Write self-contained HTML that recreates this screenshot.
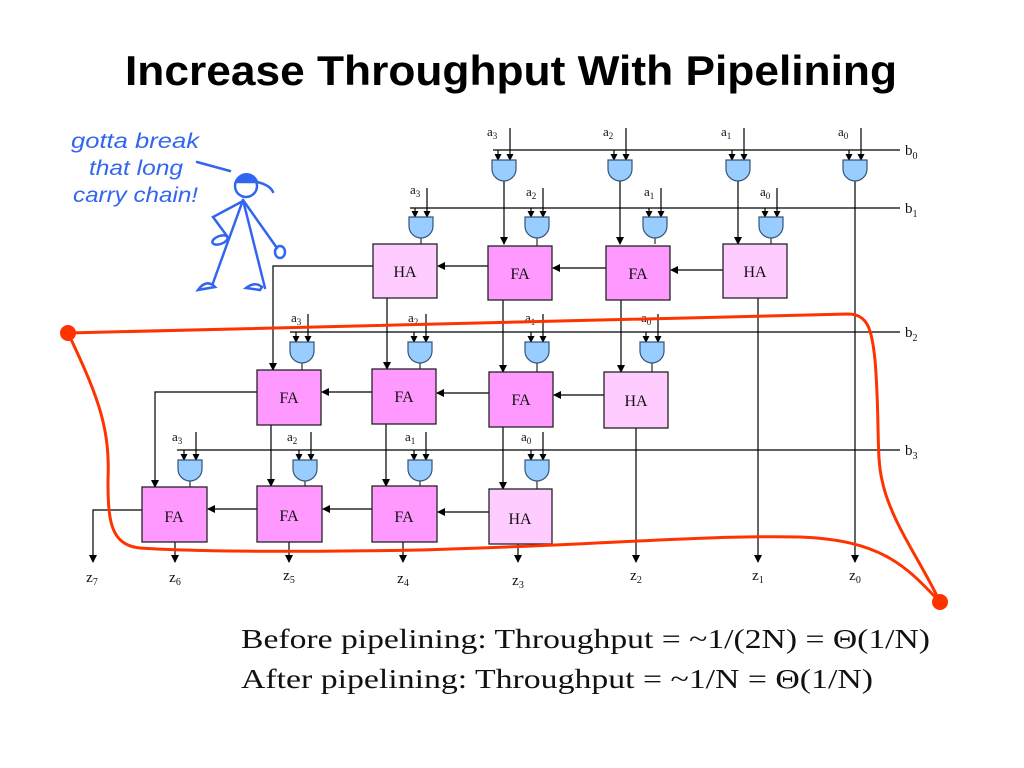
<!DOCTYPE html>
<html><head><meta charset="utf-8"><style>
body{margin:0;background:#fff}
svg{display:block}
.t{font-family:"Liberation Serif",serif;fill:#111}
</style></head><body>
<svg width="1024" height="768" viewBox="0 0 1024 768" xmlns="http://www.w3.org/2000/svg">
<defs>
<marker id="ar" markerWidth="8" markerHeight="8" refX="7" refY="4" orient="auto" markerUnits="userSpaceOnUse"><path d="M0,0 L8,4 L0,8 z" fill="#000"/></marker>
<marker id="as" markerWidth="7" markerHeight="7" refX="6" refY="3.5" orient="auto" markerUnits="userSpaceOnUse"><path d="M0,0 L7,3.5 L0,7 z" fill="#000"/></marker>
</defs>
<text x="125" y="85" textLength="772" lengthAdjust="spacingAndGlyphs" font-family="Liberation Sans, sans-serif" font-weight="bold" font-size="42" fill="#000">Increase Throughput With Pipelining</text>

<g stroke="#000" stroke-width="1.2" fill="none">
<line x1="493" y1="150" x2="900" y2="150"/>
<line x1="410" y1="208" x2="900" y2="208"/>
<line x1="290" y1="332" x2="900" y2="332"/>
<line x1="177" y1="450" x2="900" y2="450"/>
</g>
<g class="t" font-size="15">
<text x="905" y="155">b<tspan font-size="10" dy="4">0</tspan></text>
<text x="905" y="213">b<tspan font-size="10" dy="4">1</tspan></text>
<text x="905" y="337">b<tspan font-size="10" dy="4">2</tspan></text>
<text x="905" y="455">b<tspan font-size="10" dy="4">3</tspan></text>
</g>

<g stroke="#000" stroke-width="1.2" marker-end="url(#as)">
<line x1="510" y1="128" x2="510" y2="160"/><line x1="498" y1="150" x2="498" y2="160"/>
<line x1="626" y1="128" x2="626" y2="160"/><line x1="614" y1="150" x2="614" y2="160"/>
<line x1="744" y1="128" x2="744" y2="160"/><line x1="732" y1="150" x2="732" y2="160"/>
<line x1="861" y1="128" x2="861" y2="160"/><line x1="849" y1="150" x2="849" y2="160"/>
<line x1="427" y1="188" x2="427" y2="217"/><line x1="415" y1="208" x2="415" y2="217"/>
<line x1="543" y1="188" x2="543" y2="217"/><line x1="531" y1="208" x2="531" y2="217"/>
<line x1="661" y1="188" x2="661" y2="217"/><line x1="649" y1="208" x2="649" y2="217"/>
<line x1="777" y1="188" x2="777" y2="217"/><line x1="765" y1="208" x2="765" y2="217"/>
<line x1="308" y1="314" x2="308" y2="342"/><line x1="296" y1="332" x2="296" y2="342"/>
<line x1="426" y1="314" x2="426" y2="342"/><line x1="414" y1="332" x2="414" y2="342"/>
<line x1="543" y1="314" x2="543" y2="342"/><line x1="531" y1="332" x2="531" y2="342"/>
<line x1="658" y1="314" x2="658" y2="342"/><line x1="646" y1="332" x2="646" y2="342"/>
<line x1="196" y1="432" x2="196" y2="460"/><line x1="184" y1="450" x2="184" y2="460"/>
<line x1="311" y1="432" x2="311" y2="460"/><line x1="299" y1="450" x2="299" y2="460"/>
<line x1="426" y1="432" x2="426" y2="460"/><line x1="414" y1="450" x2="414" y2="460"/>
<line x1="543" y1="432" x2="543" y2="460"/><line x1="531" y1="450" x2="531" y2="460"/>
</g>
<g class="t" font-size="13">
<text x="487" y="136">a<tspan font-size="9" dy="3">3</tspan></text>
<text x="603" y="136">a<tspan font-size="9" dy="3">2</tspan></text>
<text x="721" y="136">a<tspan font-size="9" dy="3">1</tspan></text>
<text x="838" y="136">a<tspan font-size="9" dy="3">0</tspan></text>
<text x="410" y="194">a<tspan font-size="9" dy="3">3</tspan></text>
<text x="526" y="196">a<tspan font-size="9" dy="3">2</tspan></text>
<text x="644" y="196">a<tspan font-size="9" dy="3">1</tspan></text>
<text x="760" y="196">a<tspan font-size="9" dy="3">0</tspan></text>
<text x="291" y="322">a<tspan font-size="9" dy="3">3</tspan></text>
<text x="408" y="322">a<tspan font-size="9" dy="3">2</tspan></text>
<text x="525" y="322">a<tspan font-size="9" dy="3">1</tspan></text>
<text x="641" y="322">a<tspan font-size="9" dy="3">0</tspan></text>
<text x="172" y="441">a<tspan font-size="9" dy="3">3</tspan></text>
<text x="287" y="441">a<tspan font-size="9" dy="3">2</tspan></text>
<text x="405" y="441">a<tspan font-size="9" dy="3">1</tspan></text>
<text x="521" y="441">a<tspan font-size="9" dy="3">0</tspan></text>
</g>

<g stroke="#000" stroke-width="1.2" fill="none" marker-end="url(#ar)">
<line x1="504" y1="181" x2="504" y2="244"/>
<line x1="620" y1="181" x2="620" y2="244"/>
<line x1="738" y1="181" x2="738" y2="244"/>
<line x1="855" y1="181" x2="855" y2="562"/>
<line x1="723" y1="270" x2="671" y2="270"/>
<line x1="606" y1="268" x2="553" y2="268"/>
<line x1="488" y1="266" x2="438" y2="266"/>
<polyline points="373,266 273,266 273,370"/>
<line x1="387" y1="298" x2="387" y2="369"/>
<line x1="503" y1="300" x2="503" y2="372"/>
<line x1="621" y1="300" x2="621" y2="372"/>
<line x1="758" y1="298" x2="758" y2="562"/>
<line x1="604" y1="395" x2="554" y2="395"/>
<line x1="489" y1="393" x2="437" y2="393"/>
<line x1="372" y1="392" x2="322" y2="392"/>
<polyline points="257,392 155,392 155,487"/>
<line x1="271" y1="425" x2="271" y2="486"/>
<line x1="386" y1="424" x2="386" y2="486"/>
<line x1="503" y1="427" x2="503" y2="489"/>
<line x1="636" y1="428" x2="636" y2="562"/>
<line x1="489" y1="512" x2="438" y2="512"/>
<line x1="372" y1="509" x2="323" y2="509"/>
<line x1="257" y1="509" x2="208" y2="509"/>
<polyline points="142,510 93,510 93,562"/>
<line x1="175" y1="542" x2="175" y2="562"/>
<line x1="289" y1="542" x2="289" y2="562"/>
<line x1="403" y1="542" x2="403" y2="562"/>
<line x1="518" y1="544" x2="518" y2="562"/>
</g>
<g stroke="#000" stroke-width="1">
<line x1="421" y1="238" x2="421" y2="244"/><line x1="537" y1="238" x2="537" y2="249"/><line x1="655" y1="238" x2="655" y2="244"/><line x1="771" y1="238" x2="771" y2="244"/>
<line x1="302" y1="363" x2="302" y2="370"/><line x1="420" y1="363" x2="420" y2="369"/><line x1="537" y1="363" x2="537" y2="372"/><line x1="652" y1="363" x2="652" y2="372"/>
<line x1="190" y1="481" x2="190" y2="487"/><line x1="305" y1="481" x2="305" y2="486"/><line x1="420" y1="481" x2="420" y2="486"/><line x1="537" y1="481" x2="537" y2="489"/>
</g>

<g fill="#99ccff" stroke="#335577" stroke-width="1.2">
<path d="M492,160 h24 v9 a12,12 0 0 1 -24,0 z"/>
<path d="M608,160 h24 v9 a12,12 0 0 1 -24,0 z"/>
<path d="M726,160 h24 v9 a12,12 0 0 1 -24,0 z"/>
<path d="M843,160 h24 v9 a12,12 0 0 1 -24,0 z"/>
<path d="M409,217 h24 v9 a12,12 0 0 1 -24,0 z"/>
<path d="M525,217 h24 v9 a12,12 0 0 1 -24,0 z"/>
<path d="M643,217 h24 v9 a12,12 0 0 1 -24,0 z"/>
<path d="M759,217 h24 v9 a12,12 0 0 1 -24,0 z"/>
<path d="M290,342 h24 v9 a12,12 0 0 1 -24,0 z"/>
<path d="M408,342 h24 v9 a12,12 0 0 1 -24,0 z"/>
<path d="M525,342 h24 v9 a12,12 0 0 1 -24,0 z"/>
<path d="M640,342 h24 v9 a12,12 0 0 1 -24,0 z"/>
<path d="M178,460 h24 v9 a12,12 0 0 1 -24,0 z"/>
<path d="M293,460 h24 v9 a12,12 0 0 1 -24,0 z"/>
<path d="M408,460 h24 v9 a12,12 0 0 1 -24,0 z"/>
<path d="M525,460 h24 v9 a12,12 0 0 1 -24,0 z"/>
</g>

<g stroke="#222" stroke-width="1.3">
<rect x="373" y="244" width="64" height="54" fill="#ffccff"/>
<rect x="488" y="246" width="64" height="54" fill="#ff99ff"/>
<rect x="606" y="246" width="64" height="54" fill="#ff99ff"/>
<rect x="723" y="244" width="64" height="54" fill="#ffccff"/>
<rect x="257" y="370" width="64" height="55" fill="#ff99ff"/>
<rect x="372" y="369" width="64" height="55" fill="#ff99ff"/>
<rect x="489" y="372" width="64" height="55" fill="#ff99ff"/>
<rect x="604" y="372" width="64" height="56" fill="#ffccff"/>
<rect x="142" y="487" width="65" height="55" fill="#ff99ff"/>
<rect x="257" y="486" width="65" height="56" fill="#ff99ff"/>
<rect x="372" y="486" width="65" height="56" fill="#ff99ff"/>
<rect x="489" y="489" width="63" height="55" fill="#ffccff"/>
</g>
<g class="t" font-size="16" text-anchor="middle">
<text x="405" y="277">HA</text><text x="520" y="279">FA</text><text x="638" y="279">FA</text><text x="755" y="277">HA</text>
<text x="289" y="403">FA</text><text x="404" y="402">FA</text><text x="521" y="405">FA</text><text x="636" y="406">HA</text>
<text x="174" y="522">FA</text><text x="289" y="521">FA</text><text x="404" y="522">FA</text><text x="520" y="524">HA</text>
</g>
<g class="t" font-size="15" text-anchor="middle">
<text x="92" y="582">z<tspan font-size="10" dy="3">7</tspan></text>
<text x="175" y="582">z<tspan font-size="10" dy="3">6</tspan></text>
<text x="289" y="580">z<tspan font-size="10" dy="3">5</tspan></text>
<text x="403" y="583">z<tspan font-size="10" dy="3">4</tspan></text>
<text x="518" y="585">z<tspan font-size="10" dy="3">3</tspan></text>
<text x="636" y="580">z<tspan font-size="10" dy="3">2</tspan></text>
<text x="758" y="580">z<tspan font-size="10" dy="3">1</tspan></text>
<text x="855" y="580">z<tspan font-size="10" dy="3">0</tspan></text>
</g>

<g stroke="#ff3300" stroke-width="3" fill="none" stroke-linecap="round">
<path d="M68,333 L848,314 C868,314 872,330 875,360 C880,420 876,455 882,480 C890,520 920,560 938,598"/>
<path d="M938,600 C905,565 880,540 800,537 C700,535 600,545 420,550 C300,552 200,552 140,548 C110,545 108,520 108,480 C110,430 100,400 68,333"/>
</g>
<circle cx="68" cy="333" r="8" fill="#ff3300"/>
<circle cx="940" cy="602" r="8" fill="#ff3300"/>

<g font-family="Liberation Sans, sans-serif" font-style="italic" font-size="21" fill="#3366ee">
<text x="71" y="148" textLength="128" lengthAdjust="spacingAndGlyphs">gotta break</text>
<text x="89" y="175" textLength="94" lengthAdjust="spacingAndGlyphs">that long</text>
<text x="73" y="202" textLength="125" lengthAdjust="spacingAndGlyphs">carry chain!</text>
</g>
<g stroke="#3366ee" stroke-width="2.5" fill="none" stroke-linecap="round">
<line x1="197" y1="162" x2="230" y2="171"/>
<circle cx="246" cy="186" r="11"/>
<path d="M236,182 A11,11 0 0 1 257,182 Z" fill="#3366ee"/>
<path d="M257,182 Q270,185 273,192"/>
<line x1="243" y1="200" x2="213" y2="283"/>
<line x1="243" y1="200" x2="265" y2="288"/>
<polyline points="243,201 213,217 227,236"/>
<ellipse cx="220" cy="240" rx="8" ry="4" transform="rotate(-20 220 240)"/>
<line x1="243" y1="200" x2="277" y2="248"/>
<ellipse cx="280" cy="252" rx="5" ry="6"/>
<path d="M198,290 Q205,280 213,285 L215,287 Z"/>
<path d="M246,288 Q255,281 262,287 L260,290 Z"/>
</g>

<g font-family="Liberation Serif, serif" font-size="27" fill="#111">
<text x="241" y="648" textLength="689" lengthAdjust="spacingAndGlyphs">Before pipelining: Throughput = ~1/(2N) = Θ(1/N)</text>
<text x="241" y="688" textLength="632" lengthAdjust="spacingAndGlyphs">After pipelining: Throughput = ~1/N = Θ(1/N)</text>
</g>
</svg>
</body></html>
